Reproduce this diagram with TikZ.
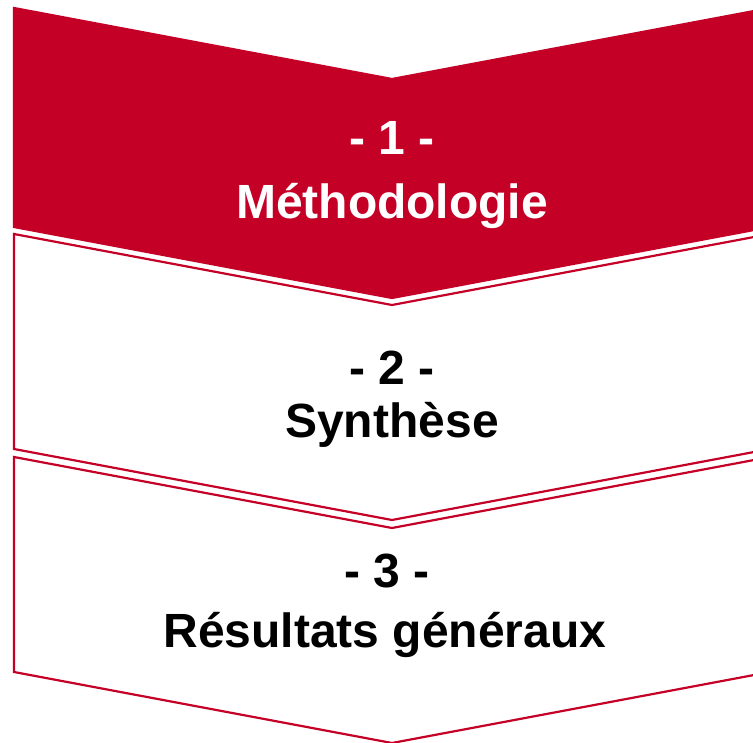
\documentclass[tikz,border=0pt]{standalone}
\usepackage{fontspec}
\setmainfont{Liberation Sans}
\definecolor{rouge}{RGB}{197,0,38}
\tikzset{
	chev/.style={draw=rouge, line width=2.2pt, line join=miter},
	lbl/.style={anchor=base, inner sep=0pt, font=\fontsize{48}{58}\selectfont\bfseries},
}
\begin{document}
\begin{tikzpicture}[x=1pt,y=-1pt]
		\useasboundingbox (0,0) rectangle (753,743);
		\clip (0,0) rectangle (753,743);
		
		\draw[chev,fill=rouge] (14,8)--(392,79)--(770,8)--(770,227)--(392,298)--(14,227)--cycle;
		\draw[chev] (14,234)--(392,305)--(770,234)--(770,449)--(392,520)--(14,449)--cycle;
		\draw[chev] (14,457)--(392,528)--(770,457)--(770,672)--(392,743)--(14,672)--cycle;
		
		\node (num1) at (392,155) [lbl,white] {- 1 -};
		\node (nom1) at (392,219) [lbl,white] {Méthodologie};
		\node (num2) at (392,385) [lbl] {- 2 -};
		\node (nom2) at (392,438) [lbl] {Synthèse};
		\node (num3) at (387,587) [lbl] {- 3 -};
		\node (nom3) at (385,647) [lbl] {Résultats généraux};
	\end{tikzpicture}
\end{document}
